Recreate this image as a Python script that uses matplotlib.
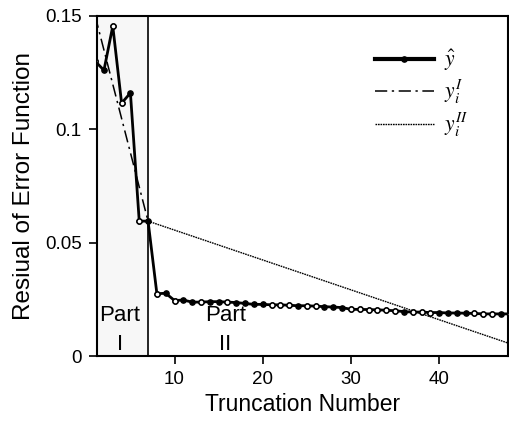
import matplotlib.pyplot as plt
import numpy as np

plt.rcParams['font.family'] = ['Liberation Sans', 'DejaVu Sans']
plt.rcParams['mathtext.fontset'] = 'stix'

trunc = np.arange(1, 49)
y_hat = [0.130, 0.126, 0.1455, 0.1115, 0.116, 0.0595, 0.0595, 0.0275, 0.0277, 0.0245,
         0.0247, 0.0238, 0.0238, 0.0240, 0.0240, 0.0238, 0.0236, 0.0232, 0.0228, 0.0228,
         0.0226, 0.0226, 0.0224, 0.0222, 0.0222, 0.0220, 0.0218, 0.0216, 0.0214, 0.0206,
         0.0206, 0.0205, 0.0204, 0.0202, 0.0200, 0.0196, 0.0194, 0.0194, 0.0192, 0.0192,
         0.0190, 0.0190, 0.0189, 0.0188, 0.0186, 0.0186, 0.0186, 0.0186]
hollow = [1, 3, 4, 6, 8, 10, 13, 16, 21, 22, 23, 25, 26, 30, 31, 32, 33, 34, 35,
          37, 38, 39, 44, 45, 46, 48]
yI_x = [1, 7]
yI_y = [0.150, 0.0595]
yII_x = [7, 48]
yII_y = [0.0595, 0.0055]
split = 7

fig = plt.figure(figsize=(5.1, 4.28), dpi=100)
ax = fig.add_axes([0.190, 0.168, 0.806, 0.795])

ax.axvspan(0, split, color='#f7f7f7', zorder=0)
ax.axvline(split, color='black', lw=1.2, zorder=1)

ax.plot(yI_x, yI_y, color='black', lw=1.1, linestyle=(0, (8, 3, 1.5, 3)), label=r'$y_i^I$', zorder=2)
ax.plot(yII_x, yII_y, color='black', lw=1.0, linestyle=(0, (1.2, 0.6)), label=r'$y_i^{II}$', zorder=2)
ax.plot(trunc, y_hat, color='black', lw=2.0, marker='o', markersize=3.8, label=r'$\hat{y}$', zorder=3)
hx = [t for t in trunc if t in hollow]
hy = [y_hat[t - 1] for t in hx]
ax.plot(hx, hy, ls='none', marker='o', markersize=3.6, mfc='white', mec='black', mew=1.0, zorder=4)

ax.text(3.8, 0.0115, 'Part\nI', ha='center', va='center', fontsize=16, linespacing=1.5)
ax.text(15.75, 0.0115, 'Part\nII', ha='center', va='center', fontsize=16, linespacing=1.5)

ax.set_xlim(1.2, 47.8)
ax.set_ylim(0, 0.15)
ax.set_xticks([10, 20, 30, 40])
ax.set_yticks([0, 0.05, 0.1, 0.15], ['0', '0.05', '0.1', '0.15'])
ax.tick_params(direction='out', length=6, width=1.2, labelsize=13.5, pad=5)
for s in ax.spines.values():
    s.set_linewidth(1.5)
ax.set_xlabel('Truncation Number', fontsize=16.5, labelpad=3)
ax.set_ylabel('Resiual of Error Function', fontsize=17.5, labelpad=7)

h, l = ax.get_legend_handles_labels()
order = [2, 0, 1]
leg = ax.legend([h[i] for i in order], [l[i] for i in order], loc='upper right',
                bbox_to_anchor=(0.925, 0.93), borderaxespad=0, frameon=False, fontsize=15.5,
                handlelength=2.7, handletextpad=0.5, labelspacing=0.2)
leg.get_lines()[0].set_linewidth(3)

fig.savefig('out.png', dpi=100)
